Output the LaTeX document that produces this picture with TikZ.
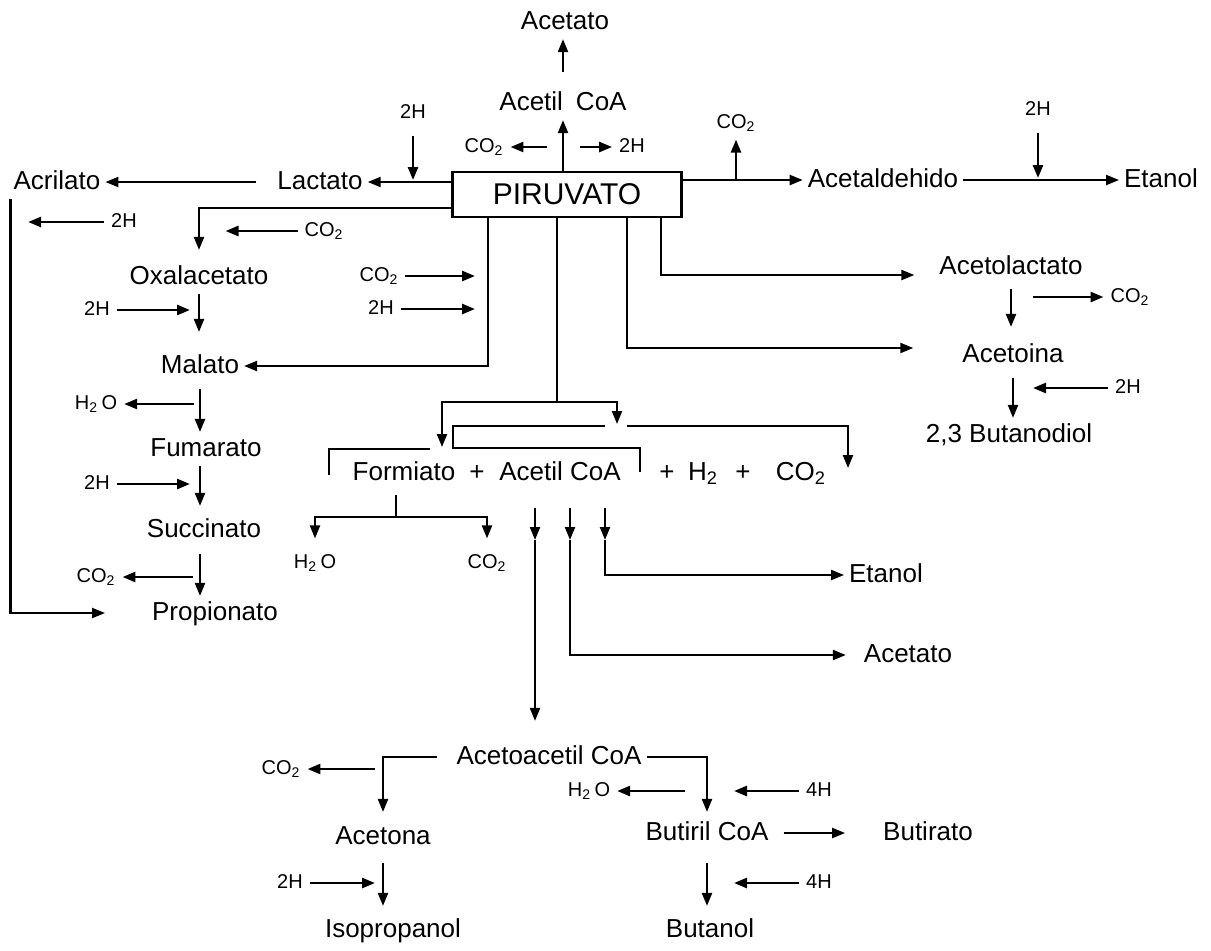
\documentclass[tikz,border=0pt]{standalone}
\usepackage{fontspec}
\setmainfont{Liberation Sans}
\usetikzlibrary{arrows.meta,calc,positioning}
\newcommand{\cod}{CO\textsubscript{2}}
\newcommand{\hdo}{H\textsubscript{2}\,O}

\begin{document}
\begin{tikzpicture}[x=0.5pt,y=-0.5pt,line width=1.1pt,
  met/.style={font=\fontsize{13}{15}\selectfont,inner sep=2pt,text height=9.5pt,text depth=2.5pt},
  sm/.style={font=\fontsize{10}{12}\selectfont,inner sep=3pt,text height=7.5pt,text depth=2pt},
  arr/.style={-{Triangle[length=6.5pt,width=5pt]}},
  side/.style={arr,line width=1.3pt}]
  \useasboundingbox (0,0) rectangle (1211,950);
  \node[draw,line width=1.2pt,inner sep=0pt,minimum width=114.5pt,minimum height=22.5pt,
        font=\fontsize{15}{17}\selectfont] (piru) at (567,194.5) {PIRUVATO};
  % metabolites
  \foreach \n/\p/\t in {acetS/{565,22}/Acetato, acoA/{563,103}/{Acetil\enspace CoA},
      lact/{320,182}/Lactato, acril/{57,182}/Acrilato, oxal/{199,277}/Oxalacetato,
      malato/{200,366}/Malato, fumar/{206,449}/Fumarato, succ/{204,530}/Succinato,
      propi/{215,613}/Propionato, aldeh/{883,180}/Acetaldehido, etanolA/{1161,180}/Etanol,
      acetol/{1011,267}/Acetolactato, acetoi/{1013,355}/Acetoina, butdiol/{1009,435}/{2,3 Butanodiol},
      form/{404,473}/Formiato, pA/{477,473}/+, acoB/{560,473}/{Acetil CoA}, pB/{667,473}/+,
      hdos/{703,473}/{H\textsubscript{2}}, pC/{743,473}/+, codos/{801,473}/\cod,
      etanolB/{886,575}/Etanol, acetB/{908,655}/Acetato, acac/{549,757}/{Acetoacetil CoA},
      acetona/{383,837}/Acetona, butiril/{707,833}/{Butiril CoA}, butirato/{928,833}/Butirato,
      isoprop/{393,930}/Isopropanol, butanol/{710,930}/Butanol}
    \node[met] (\n) at (\p) {\t};
  % small side labels
  \foreach \n/\p/\t in {hA/{413,113}/2H, cA/{484,147}/\cod, hB/{632,147}/2H, cB/{736,123}/\cod,
      hC/{1038,110}/2H, hD/{124,222}/2H, cC/{324,231}/\cod, cD/{379,276}/\cod, hE/{381,309}/2H,
      hF/{97,310}/2H, wA/{96,404}/\hdo, hG/{97,484}/2H, cE/{96,577}/\cod, wB/{315,563}/\hdo,
      cF/{487,563}/\cod, cG/{1130,297}/\cod, hH/{1128,388}/2H, cH/{281,769}/\cod,
      wC/{589,791}/\hdo, fA/{819,791}/4H, hI/{290,883}/2H, fB/{819,883}/4H}
    \node[sm] (\n) at (\p) {\t};

  % up: acetil CoA
  \draw[arr] (piru.north -| acoA) -- (acoA.south);
  \draw[arr,shorten <=7pt] (acoA.north) -- (acoA.north |- acetS.south);
  \draw[side] (547,147) -- (cA.east);
  \draw[side] (580,147) -- (hB.west);

  % left: lactato, acrilato
  \draw[arr] (piru.west |- lact) -- (lact.east);
  \draw[side,shorten <=3pt,shorten >=1pt] (hA.south) -- (hA |- lact);
  \draw[arr,shorten <=8pt] (lact.west) -- (acril.east);
  \draw[arr,shorten >=21pt] ([xshift=1pt]acril.south west) |- (propi.west);
  \draw[side] (hD.west) -- ++(-76,0);

  % oxalacetato ... propionato
  \draw[arr,shorten >=5pt] (piru.west |- 0,208) -| (oxal.north);
  \draw[side] (cC.west) -- ++(-72,0);
  \draw[side] (cD.east) -- (475,276);
  \draw[side] (hE.east) -- (475,309);
  \draw[arr] (488,0 |- piru.south) |- (malato.east);
  \draw[arr,shorten >=8.5pt] (oxal.south) -- (oxal.south |- malato.north);
  \draw[side] (hF.east) -- (190,310);
  \draw[arr,shorten <=3pt] (malato.south) -- (malato.south |- fumar.north);
  \draw[side] (194,404) -- (wA.east);
  \draw[arr,shorten >=3.5pt] (fumar.south -| malato) -- (malato |- succ.north);
  \draw[side] (hG.east) -- (190,484);
  \draw[arr,shorten <=3.5pt] (succ.south -| malato) -- (malato |- propi.north);
  \draw[side] (193,577) -- (cE.east);

  % right: acetaldehido, acetolactato
  \draw[arr] (piru.east |- aldeh) -- (aldeh.west);
  \draw[side] (736,0 |- aldeh) -- (cB.south);
  \draw[arr] (aldeh.east) -- (etanolA.west);
  \draw[side,shorten <=3pt,shorten >=1pt] (hC.south) -- (hC |- aldeh);
  \draw[arr,shorten >=10pt] (661,0 |- piru.south) |- ([yshift=-4pt]acetol.west);
  \draw[arr,shorten >=22pt] (627,0 |- piru.south) |- ([yshift=3.5pt]acetoi.west);
  \draw[arr,shorten <=2.5pt,shorten >=5.5pt] (acetol.south) -- (acetol.south |- acetoi.north);
  \draw[side] (1033,297) -- (cG.west);
  \draw[arr,shorten <=3pt] (acetoi.south) -- (acetoi.south |- butdiol.north);
  \draw[side] (hH.west) -- (1033,388);

  % formiato + acetil CoA
  \coordinate (fk) at (557,402);
  \draw (piru.south -| fk) -- (fk);
  \draw[arr] (fk) -| (442,447);
  \draw[arr] (fk) -| (617,424);
  \draw (605,426) -| (453,448) -| (640,472);
  \draw[arr] (627,426) -| (848,468);
  \draw (430,449) -| (329,475);
  \draw (396,495) -- (396,517) coordinate (fb);
  \draw[arr,shorten >=4pt] (fb) -| (wB);
  \draw[arr,shorten >=4pt] (fb) -| (cF);
  \foreach \x/\n in {535/mA,570/mB,605/mC} \coordinate (\n) at (\x,540);
  \foreach \n in {mA,mB,mC} \draw[arr,shorten <=9pt] (acoB.south -| \n) -- (\n);
  \draw[arr] (mC) |- (etanolB.west);
  \draw[arr,shorten >=6.5pt] (mB) |- (acetB.west);
  \draw[arr,shorten >=9.5pt] (mA) -- (mA |- acac.north);

  % acetoacetil CoA
  \draw[arr,shorten <=7pt,shorten >=4pt] (acac.west) -| (acetona.north);
  \draw[arr,shorten >=2pt] (acac.east) -| (butiril.north);
  \draw[side] (375,769) -- (cH.east);
  \draw[side] (685,791) -- (wC.east);
  \draw[side] (fA.west) -- (734,791);
  \draw[arr,shorten <=5pt,shorten >=16.5pt] (butiril.east) -- (butirato.west);
  \draw[arr,shorten <=4.5pt,shorten >=3.5pt] (acetona.south) -- (acetona.south |- isoprop.north);
  \draw[side] (hI.east) -- (375,883);
  \draw[arr,shorten <=6.5pt,shorten >=3.5pt] (butiril.south) -- (butiril.south |- butanol.north);
  \draw[side] (fB.west) -- (734,883);
\end{tikzpicture}
\end{document}
